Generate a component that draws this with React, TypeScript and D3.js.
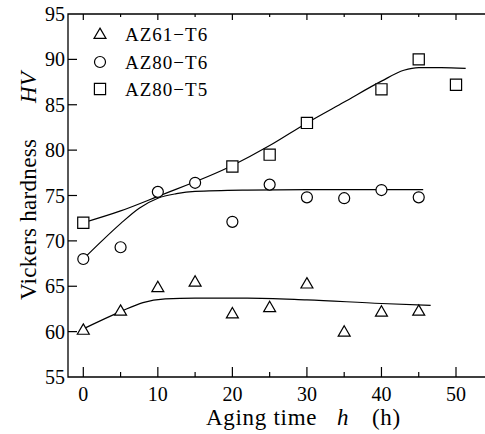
import React from 'react';
import * as d3 from 'd3';

const hours = [0, 5, 10, 15, 20, 25, 30, 35, 40, 45];
const az61T6 = [60.2, 62.3, 64.9, 65.5, 62.0, 62.7, 65.3, 60.0, 62.2, 62.3];
const az80T6 = [68.0, 69.3, 75.4, 76.4, 72.1, 76.2, 74.8, 74.7, 75.6, 74.8];
const t5Hours = [0, 20, 25, 30, 40, 45, 50];
const az80T5 = [72.0, 78.2, 79.5, 83.0, 86.7, 90.0, 87.2];

// fitted curves
const fit61X = [0, 5, 8, 11, 15, 22, 30, 40, 46.6];
const fit61Y = [60.3, 62.2, 63.2, 63.6, 63.7, 63.7, 63.5, 63.1, 62.9];
const fit80X = [0, 2.5, 5, 7.5, 10, 12.5, 15, 22, 30, 45.6];
const fit80Y = [68.0, 70.0, 71.9, 73.6, 74.7, 75.2, 75.45, 75.6, 75.65, 75.65];
const fitT5X = [0, 5, 10, 20, 25, 30, 35, 40, 43, 45, 48, 51.3];
const fitT5Y = [72.0, 73.3, 74.9, 78.3, 80.5, 83.0, 85.3, 87.6, 88.8, 89.1, 89.1, 89.0];

const xTicks = [0, 10, 20, 30, 40, 50];
const xMinor = [5, 15, 25, 35, 45];
const yTicks = [55, 60, 65, 70, 75, 80, 85, 90, 95];
const legendNames = ['AZ61\u2212T6', 'AZ80\u2212T6', 'AZ80\u2212T5'];

const ff = { fontFamily: "'Liberation Serif'" };

const left = 68, top = 14, bottom = 377, right = 485;
const x = d3.scaleLinear().domain([0, 50]).range([83.3, 456]);
const y = d3.scaleLinear().domain([55, 95]).range([bottom, top]);

const line = d3.line<[number, number]>().x(d => x(d[0])).y(d => y(d[1])).curve(d3.curveMonotoneX);
const tri = d3.symbol().type(d3.symbolTriangle).size(62)() || '';
const circ = d3.symbol().type(d3.symbolCircle).size(95)() || '';
const sq = d3.symbol().type(d3.symbolSquare).size(125)() || '';

const zip = (xs: number[], ys: number[]) => xs.map((v, i) => [v, ys[i]] as [number, number]);

const series = [
  { xs: hours, ys: az61T6, d: tri, dy: 1 },
  { xs: hours, ys: az80T6, d: circ, dy: 0 },
  { xs: t5Hours, ys: az80T5, d: sq, dy: 0 },
];
const fits = [zip(fit61X, fit61Y), zip(fit80X, fit80Y), zip(fitT5X, fitT5Y)];
const legY = [34, 62, 89];

export default function App() {
  return (
    <>
      <style>{'body{margin:0}'}</style>
      <svg width={485} height={434} style={{ display: 'block', background: '#fff' }}>
        {/* frame, right side cut off */}
        <path d={`M${right},${top}H${left}V${bottom}H${right}`} fill="none" stroke="#000" strokeWidth={1.3} />

        {xTicks.map(t => (
          <g key={'x' + t}>
            <line x1={x(t)} x2={x(t)} y1={bottom} y2={bottom - 10} stroke="#000" strokeWidth={1.2} />
            <line x1={x(t)} x2={x(t)} y1={top} y2={top + 6} stroke="#000" strokeWidth={1.2} />
            <text x={x(t)} y={401} textAnchor="middle" fontSize={20} style={ff}>{t}</text>
          </g>
        ))}
        {xMinor.map(t => (
          <g key={'m' + t}>
            <line x1={x(t)} x2={x(t)} y1={bottom} y2={bottom - 5} stroke="#000" strokeWidth={1.2} />
            <line x1={x(t)} x2={x(t)} y1={top} y2={top + 3} stroke="#000" strokeWidth={1.2} />
          </g>
        ))}
        {yTicks.map(t => (
          <g key={'y' + t}>
            {t !== 55 && t !== 95 && (
              <line x1={left} x2={left + 9} y1={y(t)} y2={y(t)} stroke="#000" strokeWidth={1.2} />
            )}
            <text x={65} y={y(t) + 7} textAnchor="end" fontSize={20} style={ff}>{t}</text>
          </g>
        ))}

        {/* axis titles */}
        <text x={206} y={425} fontSize={23} letterSpacing={0.7} style={ff}>
          Aging time
          <tspan x={337} fontStyle="italic">h</tspan>
          <tspan x={372}>(h)</tspan>
        </text>
        <text transform="translate(36,0) rotate(-90)" x={-300} y={0} fontSize={23} letterSpacing={0.3} style={ff}>
          Vickers hardness
          <tspan x={-103} fontStyle="italic">HV</tspan>
        </text>

        {fits.map((pts, i) => (
          <path key={'f' + i} d={line(pts) || ''} fill="none" stroke="#000" strokeWidth={1.2} />
        ))}

        {series.map((s, si) => (
          <g key={'s' + si}>
            {s.xs.map((v, i) => (
              <path key={i} transform={`translate(${x(v)},${y(s.ys[i]) + s.dy})`} d={s.d}
                fill="#fff" stroke="#000" strokeWidth={1.2} />
            ))}
          </g>
        ))}

        {series.map((s, i) => (
          <g key={'l' + i}>
            <path transform={`translate(100,${legY[i] + s.dy})`} d={s.d} fill="#fff" stroke="#000" strokeWidth={1.2} />
            <text x={125} y={legY[i] + 7} fontSize={19} letterSpacing={1} style={ff}>{legendNames[i]}</text>
          </g>
        ))}
      </svg>
    </>
  );
}
